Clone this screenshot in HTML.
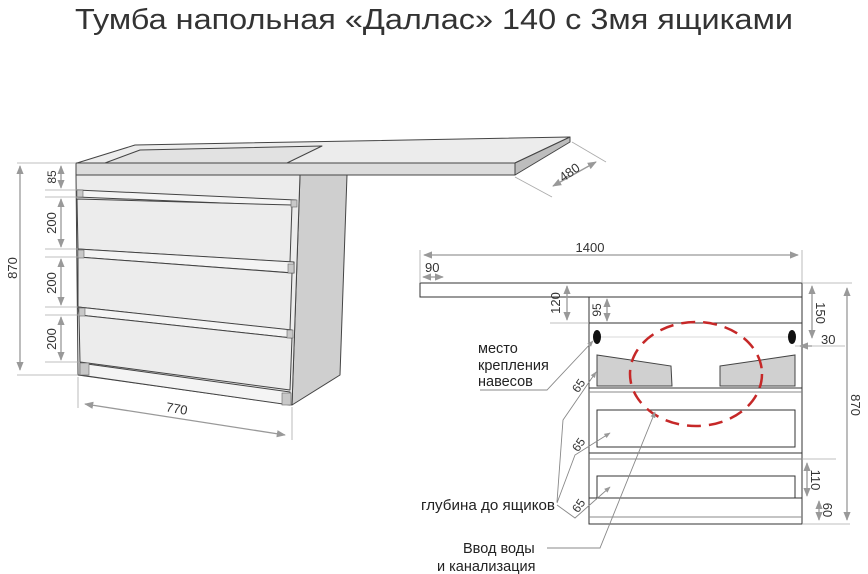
<!DOCTYPE html>
<html><head><meta charset="utf-8"><style>
html,body{margin:0;padding:0;background:#fff;}
svg{display:block;}
text{font-family:"Liberation Sans","Noto Sans CJK SC",sans-serif;}
</style></head><body>
<svg width="868" height="574" viewBox="0 0 868 574" xmlns="http://www.w3.org/2000/svg">
<defs>
<marker id="a" viewBox="0 0 10 10" refX="9" refY="5" markerWidth="7" markerHeight="7" orient="auto-start-reverse"><path d="M0,1 L10,5 L0,9 z" fill="#999"/></marker>
</defs>
<text x="75" y="29" font-size="29" fill="#333" textLength="718" lengthAdjust="spacingAndGlyphs">Тумба напольная «Даллас» 140 с 3мя ящиками</text>

<!-- LEFT 3D -->
<g stroke="#444" stroke-width="1" stroke-linejoin="round">
<polygon points="300,175 347,175 340,375 292,405" fill="#cfcfcf"/>
<polygon points="76,175 300,175 292,405 78,375" fill="#ececec"/>
<polygon points="77,163 135,145 570,137 515,163" fill="#ececec"/>
<polygon points="105,163 140,150 322,146 287,163" fill="#e2e2e2"/>
<polygon points="76,163 515,163 515,175 76,175" fill="#dcdcdc"/>
<polygon points="515,163 570,137 570,142 515,175" fill="#bdbdbd"/>
<polygon points="77,190 296,200 296,206 77,197" fill="#f4f4f4"/>
<polygon points="77,199 292,205 290,262 78,249" fill="#ececec"/>
<polygon points="78,249 294,262 294,273 78,257" fill="#f4f4f4"/>
<polygon points="78,257 292,273 290,330 78,307" fill="#ececec"/>
<polygon points="78,307 292,330 292,338 79,315" fill="#f4f4f4"/>
<polygon points="79,315 292,338 290,390 80,362" fill="#ececec"/>
<polygon points="80,363 290,392 290,405 80,375" fill="#f4f4f4"/>
</g>
<g fill="#c8c8c8" stroke="#666" stroke-width="0.6">
<rect x="77" y="190" width="6" height="7"/><rect x="291" y="200" width="6" height="7"/>
<rect x="78" y="250" width="6" height="8"/><rect x="288" y="264" width="6" height="9"/>
<rect x="79" y="308" width="6" height="8"/><rect x="287" y="330" width="6" height="8"/>
<rect x="80" y="363" width="9" height="12"/><rect x="282" y="393" width="9" height="12"/>
</g>
<g stroke="#aaa" stroke-width="0.8" fill="none">
<line x1="17" y1="163" x2="76" y2="163"/><line x1="17" y1="375" x2="78" y2="375"/>
<line x1="45" y1="190" x2="77" y2="190"/><line x1="45" y1="197" x2="77" y2="197"/>
<line x1="45" y1="249" x2="78" y2="249"/><line x1="45" y1="257" x2="78" y2="257"/>
<line x1="45" y1="307" x2="78" y2="307"/><line x1="45" y1="315" x2="78" y2="315"/>
<line x1="45" y1="362" x2="79" y2="362"/>
<line x1="78" y1="377" x2="78" y2="408"/><line x1="292" y1="407" x2="292" y2="440"/>
<line x1="515" y1="177" x2="552" y2="197"/><line x1="572" y1="142" x2="606" y2="162"/>
</g>
<g stroke="#999" stroke-width="1.3" fill="none" marker-start="url(#a)" marker-end="url(#a)">
<line x1="20" y1="166" x2="20" y2="370"/>
<line x1="61" y1="166" x2="61" y2="188"/>
<line x1="61" y1="199" x2="61" y2="247"/>
<line x1="61" y1="259" x2="61" y2="305"/>
<line x1="61" y1="317" x2="61" y2="360"/>
<line x1="85" y1="404" x2="285" y2="435"/>
<line x1="553" y1="186" x2="596" y2="162"/>
</g>
<g font-size="13" fill="#333">
<text transform="translate(17,268) rotate(-90)" text-anchor="middle">870</text>
<text transform="translate(56,177) rotate(-90)" text-anchor="middle" font-size="12">85</text>
<text transform="translate(56,223) rotate(-90)" text-anchor="middle">200</text>
<text transform="translate(56,283) rotate(-90)" text-anchor="middle">200</text>
<text transform="translate(56,339) rotate(-90)" text-anchor="middle">200</text>
<text transform="translate(176,413) rotate(10)" text-anchor="middle">770</text>
<text transform="translate(572,176) rotate(-35)" text-anchor="middle">480</text>
</g>

<!-- RIGHT FRONT VIEW -->
<g stroke="#333" stroke-width="1" fill="#fff">
<rect x="420" y="283" width="382" height="14"/>
<rect x="589" y="297" width="213" height="227"/>
<line x1="589" y1="323" x2="802" y2="323"/>
<line x1="589" y1="388" x2="802" y2="388"/>
<line x1="589" y1="392" x2="802" y2="392" stroke="#888"/>
<rect x="597" y="410" width="198" height="37"/>
<line x1="589" y1="453" x2="802" y2="453"/>
<line x1="589" y1="459" x2="802" y2="459" stroke="#888"/>
<rect x="597" y="476" width="198" height="22"/>
<line x1="589" y1="498" x2="802" y2="498"/>
<line x1="589" y1="517" x2="802" y2="517" stroke="#888"/>
<polygon points="597,355 671,366 672,386 597,386" fill="#d0d0d0" stroke="#444"/>
<polygon points="720,366 795,355 795,386 720,386" fill="#d0d0d0" stroke="#444"/>
</g>
<line x1="600" y1="337" x2="792" y2="337" stroke="#ccc" stroke-width="0.8"/>
<ellipse cx="597" cy="337" rx="4" ry="7" fill="#111"/>
<ellipse cx="792" cy="337" rx="4" ry="7" fill="#111"/>
<ellipse cx="696" cy="374" rx="66" ry="52" fill="none" stroke="#c62828" stroke-width="2.5" stroke-dasharray="14,8"/>
<g stroke="#aaa" stroke-width="0.8" fill="none">
<line x1="420" y1="250" x2="420" y2="283"/><line x1="802" y1="250" x2="802" y2="283"/>
<line x1="802" y1="283" x2="852" y2="283"/><line x1="795" y1="346" x2="845" y2="346"/>
<line x1="802" y1="459" x2="836" y2="459"/><line x1="802" y1="524" x2="850" y2="524"/>
<line x1="550" y1="323" x2="589" y2="323"/>
</g>
<g stroke="#999" stroke-width="1.3" fill="none" marker-start="url(#a)" marker-end="url(#a)">
<line x1="424" y1="255" x2="798" y2="255"/>
<line x1="423" y1="277" x2="443" y2="277"/>
<line x1="567" y1="286" x2="567" y2="320"/>
<line x1="607" y1="299" x2="607" y2="321"/>
<line x1="812" y1="286" x2="812" y2="338"/>
<line x1="847" y1="288" x2="847" y2="520"/>
<line x1="807" y1="463" x2="807" y2="496"/>
<line x1="819" y1="501" x2="819" y2="520"/>
</g>
<line x1="812" y1="346" x2="800" y2="346" stroke="#999" stroke-width="1.3" marker-end="url(#a)"/>
<g font-size="13" fill="#333">
<text x="590" y="252" text-anchor="middle">1400</text>
<text x="425" y="272">90</text>
<text transform="translate(560,303) rotate(-90)" text-anchor="middle">120</text>
<text transform="translate(601,310) rotate(-90)" text-anchor="middle" font-size="12">95</text>
<text transform="translate(816,313) rotate(90)" text-anchor="middle">150</text>
<text x="821" y="344">30</text>
<text transform="translate(851,405) rotate(90)" text-anchor="middle">870</text>
<text transform="translate(811,480) rotate(90)" text-anchor="middle">110</text>
<text transform="translate(823,510) rotate(90)" text-anchor="middle">60</text>
<text transform="translate(582,388) rotate(-55)" text-anchor="middle" font-size="12">65</text>
<text transform="translate(582,447) rotate(-55)" text-anchor="middle" font-size="12">65</text>
<text transform="translate(582,508) rotate(-55)" text-anchor="middle" font-size="12">65</text>
</g>
<g stroke="#888" stroke-width="0.9" fill="none">
<polyline points="480,390 547,390 593,341" marker-end="url(#a)"/>
<polyline points="557,502 563,420 596,372" marker-end="url(#a)"/>
<polyline points="557,503 575,455 610,433" marker-end="url(#a)"/>
<polyline points="557,505 575,518 610,487" marker-end="url(#a)"/>
<polyline points="547,548 600,548 655,412" marker-end="url(#a)"/>
</g>
<g font-size="14.5" fill="#222">
<text x="478" y="353">место</text>
<text x="478" y="370">крепления</text>
<text x="478" y="386">навесов</text>
<text x="421" y="510" textLength="134" lengthAdjust="spacingAndGlyphs">глубина до ящиков</text>
<text x="463" y="553">Ввод воды</text>
<text x="437" y="571">и канализация</text>
</g>
</svg>
</body></html>
